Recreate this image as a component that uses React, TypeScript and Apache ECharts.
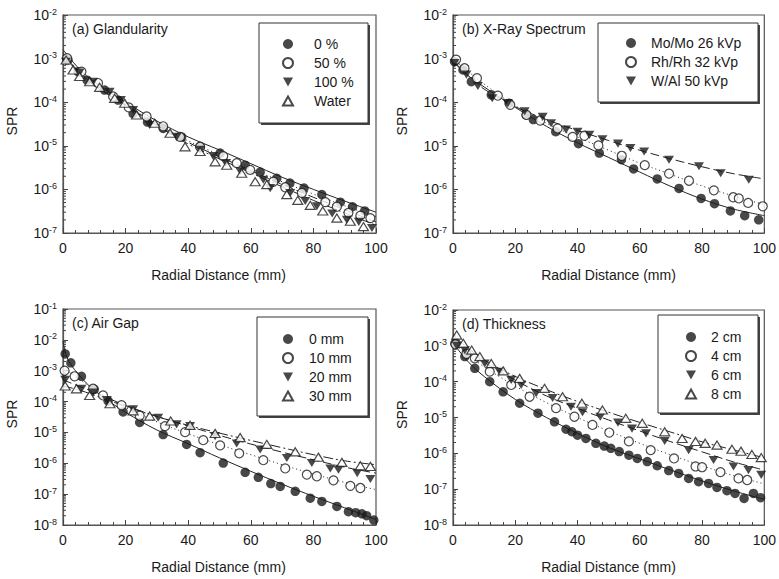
import React, { useEffect, useRef } from "react";
import * as echarts from "echarts";

type Pt = [number, number];

const FONT = '"Liberation Sans", Arial, Helvetica, sans-serif';
const INK = "#1a1a1a";
const FRAME = "#555";

// Distances (mm) at which the fitted curves are sampled
const fitDistances = [0, 5, 10, 20, 30, 40, 50, 60, 70, 80, 90, 100];
const airGapFitDistances0 = [0, 1, 2.5, 5, 10, 20, 30, 40, 50, 60, 70, 80, 90, 100];
const xTickStep = 20;
const logMinorMantissas = [2, 3, 4, 5, 6, 7, 8, 9];

// (a) Glandularity
const glandLabels = ["0 %", "50 %", "100 %", "Water"];
const gland0: Pt[] = [[1.6, 9.3e-4], [4.8, 5.0e-4], [7.7, 3.2e-4], [13.3, 1.9e-4], [17.6, 1.12e-4], [22.4, 5.5e-5], [27, 3.5e-5], [32, 2.5e-5], [37.9, 1.6e-5], [43.8, 9.5e-6], [50.2, 6.8e-6], [58.2, 3.6e-6], [63, 2.5e-6], [68.3, 1.8e-6], [72.5, 1.4e-6], [77, 1.07e-6], [82.7, 7.6e-7], [88.6, 5.1e-7], [92.5, 4.0e-7], [96.4, 3.2e-7]];
const gland50: Pt[] = [[1.3, 1.02e-3], [5.9, 5.0e-4], [11.2, 2.75e-4], [16, 1.35e-4], [21, 7.6e-5], [26.7, 4.7e-5], [32, 2.8e-5], [37.4, 1.6e-5], [43.8, 9.5e-6], [51.2, 5.8e-6], [55.5, 4.0e-6], [59.8, 2.8e-6], [67.2, 1.5e-6], [71, 1.12e-6], [76.3, 8.3e-7], [83.8, 5.1e-7], [87.5, 4.0e-7], [91.2, 2.9e-7], [95, 2.5e-7], [98.2, 2.2e-7]];
const gland100: Pt[] = [[0.9, 8.5e-4], [5.3, 4.8e-4], [9.6, 2.95e-4], [14.9, 1.74e-4], [18.5, 1.12e-4], [22.4, 6.6e-5], [27.7, 3.0e-5], [36.3, 1.6e-5], [43.8, 8.1e-6], [48, 5.8e-6], [52, 4.0e-6], [56.6, 2.6e-6], [64, 1.66e-6], [66.2, 1.07e-6], [72.6, 8.3e-7], [77.4, 5.4e-7], [81.1, 4.1e-7], [86, 2.8e-7], [90.7, 2.0e-7], [94.5, 1.8e-7], [98.7, 1.3e-7]];
const glandWater: Pt[] = [[1, 9.3e-4], [3.2, 5.5e-4], [5.3, 3.9e-4], [8.5, 2.95e-4], [11.7, 2.2e-4], [16.5, 1.23e-4], [19.7, 9.5e-5], [23.5, 5.1e-5], [29.3, 3.3e-5], [34.2, 1.95e-5], [39, 9.5e-6], [43.8, 7.4e-6], [48.6, 4.3e-6], [52.3, 3.6e-6], [57.1, 2.35e-6], [61.4, 1.5e-6], [65.1, 1.29e-6], [71.5, 7.6e-7], [75, 5.6e-7], [79, 4.3e-7], [83, 3.2e-7], [87.5, 2.2e-7], [91.8, 1.86e-7], [96, 1.4e-7]];
const glandFit0 = [1.6e-3, 6.0e-4, 2.9e-4, 1.0e-4, 3.7e-5, 1.6e-5, 8.0e-6, 3.9e-6, 1.9e-6, 1.0e-6, 5.4e-7, 3.0e-7];
const glandFit50 = [1.4e-3, 5.2e-4, 2.6e-4, 9.0e-5, 3.2e-5, 1.3e-5, 6.2e-6, 3.0e-6, 1.5e-6, 7.8e-7, 4.2e-7, 2.4e-7];
const glandFit100 = [1.3e-3, 5.0e-4, 2.5e-4, 8.5e-5, 3.0e-5, 1.2e-5, 5.6e-6, 2.7e-6, 1.3e-6, 6.6e-7, 3.4e-7, 1.8e-7];
const glandFitWater = [1.2e-3, 4.8e-4, 2.4e-4, 8.5e-5, 2.9e-5, 1.1e-5, 5.0e-6, 2.4e-6, 1.15e-6, 5.6e-7, 2.9e-7, 1.5e-7];

// (b) X-Ray Spectrum
const spectrumLabels = ["Mo/Mo 26 kVp", "Rh/Rh 32 kVp", "W/Al 50 kVp"];
const spectrumMo: Pt[] = [[0.5, 8.5e-4], [3.2, 5.5e-4], [5.9, 2.95e-4], [12.3, 1.48e-4], [18, 9.5e-5], [23.5, 5.1e-5], [25.8, 4.0e-5], [33, 2.1e-5], [40.3, 1.12e-5], [47, 6.8e-6], [54.1, 4.8e-6], [58, 2.95e-6], [65.6, 1.74e-6], [72.6, 1.05e-6], [79.7, 6.2e-7], [84, 4.7e-7], [89.1, 3.2e-7], [93.7, 2.5e-7], [98.2, 2.0e-7]];
const spectrumRh: Pt[] = [[1, 9.5e-4], [3.7, 6.0e-4], [7.7, 3.55e-4], [14.4, 1.41e-4], [18.4, 8.7e-5], [23.6, 5.1e-5], [28, 3.8e-5], [33.6, 2.5e-5], [38.4, 1.6e-5], [42.2, 1.7e-5], [46.7, 1.02e-5], [54.2, 5.9e-6], [61.6, 3.6e-6], [69.4, 2.3e-6], [75.8, 1.58e-6], [83.8, 9.5e-7], [90, 6.6e-7], [91.8, 6.2e-7], [94.8, 4.9e-7], [99.5, 4.1e-7]];
const spectrumW: Pt[] = [[0.5, 7.9e-4], [4.3, 4.3e-4], [8, 2.35e-4], [12.6, 1.23e-4], [17.6, 9.5e-5], [23, 6.2e-5], [28.8, 4.6e-5], [31.5, 3.3e-5], [36.3, 2.35e-5], [40, 2.1e-5], [43.8, 1.78e-5], [48, 1.41e-5], [53, 1.12e-5], [57, 8.9e-6], [61.4, 7.4e-6], [69.4, 4.8e-6], [79, 3.4e-6], [86, 2.35e-6], [95, 1.66e-6]];
const spectrumFitMo = [8.5e-4, 4.0e-4, 2.24e-4, 7.6e-5, 2.8e-5, 1.17e-5, 5.4e-6, 2.5e-6, 1.17e-6, 6.0e-7, 3.55e-7, 2.5e-7];
const spectrumFitRh = [1.0e-3, 5.0e-4, 2.6e-4, 8.3e-5, 3.3e-5, 1.58e-5, 7.9e-6, 4.0e-6, 2.2e-6, 1.2e-6, 7.1e-7, 4.5e-7];
const spectrumFitW = [8.9e-4, 4.0e-4, 2.0e-4, 7.9e-5, 4.0e-5, 2.24e-5, 1.32e-5, 7.9e-6, 5.0e-6, 3.3e-6, 2.3e-6, 1.74e-6];

// (c) Air Gap
const airGapLabels = ["0 mm", "10 mm", "20 mm", "30 mm"];
const airGap0: Pt[] = [[0.7, 3.5e-3], [2.5, 1.8e-3], [5.9, 6.6e-4], [10, 2.5e-4], [14.4, 1.05e-4], [19.2, 4.6e-5], [24.5, 2.1e-5], [32, 8.5e-6], [39.5, 4.1e-6], [43.8, 2.2e-6], [51.2, 1.02e-6], [58.2, 5.1e-7], [62.4, 3.5e-7], [66.4, 2.2e-7], [69.4, 1.78e-7], [74.2, 1.23e-7], [79, 7.4e-8], [82.7, 5.8e-8], [87.5, 4.0e-8], [91.2, 2.7e-8], [93.5, 2.5e-8], [95.5, 2.3e-8], [97, 2.0e-8], [99.3, 1.45e-8]];
const airGap10: Pt[] = [[0.5, 1.0e-3], [3.7, 6.6e-4], [9.6, 2.6e-4], [12.8, 1.58e-4], [18.7, 7.6e-5], [24.5, 3.5e-5], [32.6, 1.6e-5], [39, 1.02e-5], [44.8, 5.6e-6], [50.2, 3.8e-6], [56.3, 2.1e-6], [64, 1.26e-6], [71, 6.8e-7], [77.9, 4.3e-7], [81.1, 3.8e-7], [86.4, 2.8e-7], [91.8, 1.86e-7], [95, 1.58e-7]];
const airGap20: Pt[] = [[0.7, 5.1e-4], [5.9, 2.6e-4], [9.6, 1.95e-4], [14, 1.12e-4], [22.4, 5.6e-5], [30.4, 3.0e-5], [36.3, 1.82e-5], [40.6, 1.6e-5], [48.6, 7.6e-6], [55.5, 4.4e-6], [63, 2.8e-6], [71.5, 1.48e-6], [79.5, 1.02e-6], [85.4, 6.8e-7], [88, 6.2e-7], [94, 4.8e-7], [98.2, 3.1e-7]];
const airGap30: Pt[] = [[0.7, 3.2e-4], [4.3, 2.6e-4], [8.5, 1.58e-4], [15, 8.5e-5], [22.4, 5.0e-5], [27.7, 3.4e-5], [34.4, 2.35e-5], [40.6, 1.7e-5], [48.6, 9.3e-6], [56.6, 6.8e-6], [65.1, 4.1e-6], [74.2, 2.35e-6], [81.6, 1.58e-6], [89.1, 1.07e-6], [95, 8.3e-7], [98.2, 7.9e-7]];
const airGapFit0 = [9.0e-3, 3.2e-3, 1.6e-3, 7.5e-4, 2.3e-4, 4.5e-5, 1.2e-5, 4.3e-6, 1.5e-6, 5.5e-7, 2.1e-7, 8.5e-8, 3.6e-8, 1.5e-8];
const airGapFit10 = [1.3e-3, 5.5e-4, 2.5e-4, 6.5e-5, 2.2e-5, 9.0e-6, 4.0e-6, 1.9e-6, 9.0e-7, 4.5e-7, 2.4e-7, 1.4e-7];
const airGapFit20 = [5.0e-4, 3.2e-4, 2.0e-4, 7.5e-5, 3.3e-5, 1.6e-5, 8.0e-6, 4.2e-6, 2.3e-6, 1.3e-6, 7.5e-7, 4.8e-7];
const airGapFit30 = [3.2e-4, 2.4e-4, 1.6e-4, 7.0e-5, 3.3e-5, 1.7e-5, 9.5e-6, 5.5e-6, 3.2e-6, 1.9e-6, 1.2e-6, 9.0e-7];

// (d) Thickness
const thicknessLabels = ["2 cm", "4 cm", "6 cm", "8 cm"];
const thickness2: Pt[] = [[0.6, 1.17e-3], [3.8, 5.0e-4], [7, 2.35e-4], [11.8, 1.0e-4], [16.1, 5.2e-5], [21.4, 2.5e-5], [27.3, 1.32e-5], [32.6, 7.6e-6], [36.3, 4.7e-6], [38.2, 4.0e-6], [40, 3.2e-6], [42.7, 2.6e-6], [45.9, 1.9e-6], [48.6, 1.6e-6], [50.7, 1.38e-6], [53.4, 1.12e-6], [56.5, 8.9e-7], [59.2, 7.2e-7], [62.4, 5.9e-7], [65.6, 4.5e-7], [69.3, 3.3e-7], [72.5, 2.75e-7], [75.7, 2.0e-7], [78.9, 1.62e-7], [82.1, 1.45e-7], [84.8, 1.12e-7], [88, 9.1e-8], [90.6, 7.6e-8], [93.5, 5.5e-8], [96.5, 7.6e-8], [98.8, 5.8e-8]];
const thickness4: Pt[] = [[0.8, 1.1e-3], [4.3, 6.0e-4], [7, 4.5e-4], [11.8, 1.9e-4], [18.7, 8.1e-5], [24.6, 3.8e-5], [33.1, 1.82e-5], [39, 1.05e-5], [44.8, 6.2e-6], [50.2, 3.8e-6], [56.5, 2.15e-6], [63.5, 1.23e-6], [71, 7.2e-7], [77.9, 4.3e-7], [80, 4.1e-7], [85.9, 3.0e-7], [91.7, 2.0e-7], [94.5, 1.8e-7]];
const thickness6: Pt[] = [[1.2, 1.0e-3], [3.8, 7.6e-4], [10.2, 3.2e-4], [15, 1.9e-4], [18.7, 1.12e-4], [21.9, 8.1e-5], [26.7, 4.8e-5], [32, 3.5e-5], [37.9, 2.0e-5], [41.6, 1.4e-5], [47.3, 1.05e-5], [53, 7.2e-6], [57.5, 4.9e-6], [62, 3.6e-6], [68, 2.2e-6], [75.7, 1.23e-6], [83.7, 6.5e-7], [90.1, 4.3e-7], [94.9, 3.4e-7], [99, 2.5e-7]];
const thickness8: Pt[] = [[1.2, 2.0e-3], [3.3, 1.17e-3], [6, 7.6e-4], [8.6, 5.0e-4], [12.3, 3.2e-4], [16.1, 2.0e-4], [21.4, 1.23e-4], [29.4, 6.5e-5], [35.2, 3.8e-5], [41.4, 2.5e-5], [48, 1.62e-5], [55.5, 9.5e-6], [60.8, 6.9e-6], [68, 4.0e-6], [73.6, 2.6e-6], [77.9, 2.15e-6], [81, 1.9e-6], [84.8, 1.7e-6], [89.6, 1.3e-6], [92.5, 1.15e-6], [96, 9.3e-7], [99, 7.6e-7]];
const thicknessFit2 = [1.2e-3, 3.5e-4, 1.4e-4, 3.2e-5, 1.0e-5, 3.6e-6, 1.45e-6, 7.0e-7, 3.4e-7, 1.7e-7, 9.0e-8, 5.2e-8];
const thicknessFit4 = [1.2e-3, 5.5e-4, 2.6e-4, 7.5e-5, 2.6e-5, 1.0e-5, 4.2e-6, 1.9e-6, 9.0e-7, 4.5e-7, 2.4e-7, 1.4e-7];
const thicknessFit6 = [1.3e-3, 6.5e-4, 3.5e-4, 1.1e-4, 4.0e-5, 1.8e-5, 8.5e-6, 4.2e-6, 2.1e-6, 1.1e-6, 5.8e-7, 3.4e-7];
const thicknessFit8 = [2.0e-3, 8.5e-4, 4.0e-4, 1.4e-4, 6.0e-5, 2.8e-5, 1.4e-5, 7.3e-6, 3.9e-6, 2.1e-6, 1.25e-6, 7.5e-7];

// Marker styles in series order: filled circle, open circle, filled down-triangle, open triangle
const markerStyles = [
  { symbol: "circle", symbolSize: 9.5, itemStyle: { color: INK, borderWidth: 0 } },
  { symbol: "circle", symbolSize: 9, itemStyle: { color: "#fff", borderColor: INK, borderWidth: 1.2 } },
  { symbol: "path://M0,0L10,0L5,9Z", symbolSize: [10, 9], itemStyle: { color: INK, borderWidth: 0 } },
  { symbol: "path://M5,0L10,9L0,9Z", symbolSize: [10, 9], itemStyle: { color: "#fff", borderColor: INK, borderWidth: 1.2 } },
];
// Fitted curve dash patterns: solid, dotted, dashed, dash-dot
const fitDashes: any[] = ["solid", [1, 3], [9, 4], [10, 3, 2, 3]];

interface Panel {
  title: string;
  grid: { left: number; top: number; width: number; height: number };
  yMin: number;
  yMax: number;
  names: string[];
  points: Pt[][];
  fits: number[][];
  fitXs: number[][];
  legendBox: [number, number, number, number];
  legendSymbolX: number;
  legendTextX: number;
  legendFirstRowY: number;
}

const panels: Panel[] = [
  {
    title: "(a) Glandularity",
    grid: { left: 63, top: 15, width: 313, height: 218 },
    yMin: 1e-7, yMax: 1e-2,
    names: glandLabels,
    points: [gland0, gland50, gland100, glandWater],
    fits: [glandFit0, glandFit50, glandFit100, glandFitWater],
    fitXs: [fitDistances, fitDistances, fitDistances, fitDistances],
    legendBox: [259, 23, 109, 100],
    legendSymbolX: 287,
    legendTextX: 313,
    legendFirstRowY: 44,
  },
  {
    title: "(b) X-Ray Spectrum",
    grid: { left: 453, top: 15, width: 313, height: 218 },
    yMin: 1e-7, yMax: 1e-2,
    names: spectrumLabels,
    points: [spectrumMo, spectrumRh, spectrumW],
    fits: [spectrumFitMo, spectrumFitRh, spectrumFitW],
    fitXs: [fitDistances, fitDistances, fitDistances],
    legendBox: [598, 23, 160, 79],
    legendSymbolX: 630,
    legendTextX: 650,
    legendFirstRowY: 43,
  },
  {
    title: "(c) Air Gap",
    grid: { left: 63, top: 309, width: 313, height: 216 },
    yMin: 1e-8, yMax: 1e-1,
    names: airGapLabels,
    points: [airGap0, airGap10, airGap20, airGap30],
    fits: [airGapFit0, airGapFit10, airGapFit20, airGapFit30],
    fitXs: [airGapFitDistances0, fitDistances, fitDistances, fitDistances],
    legendBox: [257, 317, 111, 99],
    legendSymbolX: 287,
    legendTextX: 308,
    legendFirstRowY: 339,
  },
  {
    title: "(d) Thickness",
    grid: { left: 453, top: 310, width: 313, height: 215 },
    yMin: 1e-8, yMax: 1e-2,
    names: thicknessLabels,
    points: [thickness2, thickness4, thickness6, thickness8],
    fits: [thicknessFit2, thicknessFit4, thicknessFit6, thicknessFit8],
    fitXs: [fitDistances, fitDistances, fitDistances, fitDistances],
    legendBox: [658, 315, 100, 98],
    legendSymbolX: 690,
    legendTextX: 710,
    legendFirstRowY: 337,
  },
];

function minorTickValues(yMin: number, yMax: number): Pt[] {
  const out: Pt[] = [];
  for (let d = yMin; d < yMax * 0.999; d *= 10) {
    logMinorMantissas.forEach((m) => out.push([0, m * d]));
  }
  return out;
}

function buildOption() {
  const grid: any[] = [];
  const xAxis: any[] = [];
  const yAxis: any[] = [];
  const series: any[] = [];
  const legend: any[] = [];
  const graphic: any[] = [];

  panels.forEach((p, i) => {
    grid.push({ ...p.grid, show: true, borderColor: FRAME, borderWidth: 1.2, backgroundColor: "transparent" });
    xAxis.push({
      gridIndex: i,
      type: "value",
      min: 0,
      max: 100,
      interval: xTickStep,
      axisLine: { show: true, lineStyle: { color: FRAME, width: 1.2 } },
      axisTick: { show: true, inside: true, length: 5, lineStyle: { color: "#444" } },
      minorTick: { show: true, splitNumber: 5, length: 3, lineStyle: { color: "#444" } },
      splitLine: { show: false },
      axisLabel: { color: INK, fontSize: 14, fontFamily: FONT, margin: 8 },
    });
    yAxis.push({
      gridIndex: i,
      type: "log",
      logBase: 10,
      min: p.yMin,
      max: p.yMax,
      splitNumber: 10,
      axisLine: { show: true, lineStyle: { color: FRAME, width: 1.2 } },
      axisTick: { show: true, inside: true, length: 5, lineStyle: { color: "#444" } },
      splitLine: { show: false },
      axisLabel: {
        margin: 6,
        formatter: (v: number) => `{b|10}{s|${Math.round(Math.log10(v))}}`,
        rich: {
          b: { fontSize: 14, fontFamily: FONT, color: INK, lineHeight: 16 },
          s: { fontSize: 9, fontFamily: FONT, color: INK, verticalAlign: "top" },
        },
      },
    });

    // log minor ticks along the left edge
    series.push({
      type: "custom",
      xAxisIndex: i,
      yAxisIndex: i,
      silent: true,
      clip: false,
      z: 1,
      data: minorTickValues(p.yMin, p.yMax),
      renderItem: (_params: any, api: any) => {
        const pt = api.coord([0, api.value(1)]);
        return {
          type: "line",
          shape: { x1: pt[0], y1: pt[1], x2: pt[0] + 3, y2: pt[1] },
          style: { stroke: "#444", lineWidth: 1 },
        };
      },
    });

    p.names.forEach((name, k) => {
      series.push({
        name: name + " fit",
        type: "line",
        xAxisIndex: i,
        yAxisIndex: i,
        symbol: "none",
        silent: true,
        smooth: 0.35,
        z: 2,
        data: p.fitXs[k].map((x, j) => [x, p.fits[k][j]]),
        lineStyle: { color: "#222", width: 1, type: fitDashes[k] },
      });
    });
    p.names.forEach((name, k) => {
      series.push({
        name,
        type: "scatter",
        xAxisIndex: i,
        yAxisIndex: i,
        z: 3,
        symbolKeepAspect: true,
        data: p.points[k],
        ...markerStyles[k],
      });
    });

    const iconW = 10;
    legend.push({
      data: p.names,
      orient: "vertical",
      left: p.legendSymbolX - iconW / 2,
      top: p.legendFirstRowY - 9.5,
      itemWidth: iconW,
      itemHeight: 10,
      itemGap: 0,
      padding: 0,
      selectedMode: false,
      symbolKeepAspect: true,
      z: 5,
      textStyle: {
        fontSize: 14,
        lineHeight: 19,
        color: INK,
        fontFamily: FONT,
        padding: [0, 0, 0, p.legendTextX - p.legendSymbolX - iconW / 2 - 5],
      },
    });

    const [bx, by, bw, bh] = p.legendBox;
    graphic.push(
      { type: "rect", z: 3, shape: { x: bx + 2, y: by + 2, width: bw, height: bh }, style: { fill: "#444" } },
      { type: "rect", z: 3, shape: { x: bx, y: by, width: bw, height: bh }, style: { fill: "#fff", stroke: "#333", lineWidth: 1 } },
      {
        type: "text",
        z: 4,
        x: p.grid.left + 9,
        y: p.grid.top + 14,
        style: { text: p.title, fontSize: 14, fontFamily: FONT, fill: INK, align: "left", verticalAlign: "middle" },
      },
      {
        type: "text",
        z: 4,
        x: p.grid.left - 51,
        y: p.grid.top + p.grid.height / 2 - 3,
        rotation: Math.PI / 2,
        style: { text: "SPR", fontSize: 14, fontFamily: FONT, fill: INK, align: "center", verticalAlign: "middle" },
      },
      {
        type: "text",
        z: 4,
        x: p.grid.left + p.grid.width / 2 - 1,
        y: p.grid.top + p.grid.height + 42,
        style: { text: "Radial Distance (mm)", fontSize: 14, fontFamily: FONT, fill: INK, align: "center", verticalAlign: "middle" },
      }
    );
  });

  return {
    animation: false,
    backgroundColor: "#fff",
    grid,
    xAxis,
    yAxis,
    legend,
    graphic,
    series,
  };
}

export default function App() {
  const ref = useRef<HTMLDivElement>(null);
  useEffect(() => {
    if (!ref.current) return;
    const chart = echarts.init(ref.current, undefined, { renderer: "svg" });
    chart.setOption(buildOption() as any);
    return () => chart.dispose();
  }, []);
  return <div ref={ref} style={{ position: "absolute", left: 0, top: 0, width: 779, height: 579 }} />;
}
